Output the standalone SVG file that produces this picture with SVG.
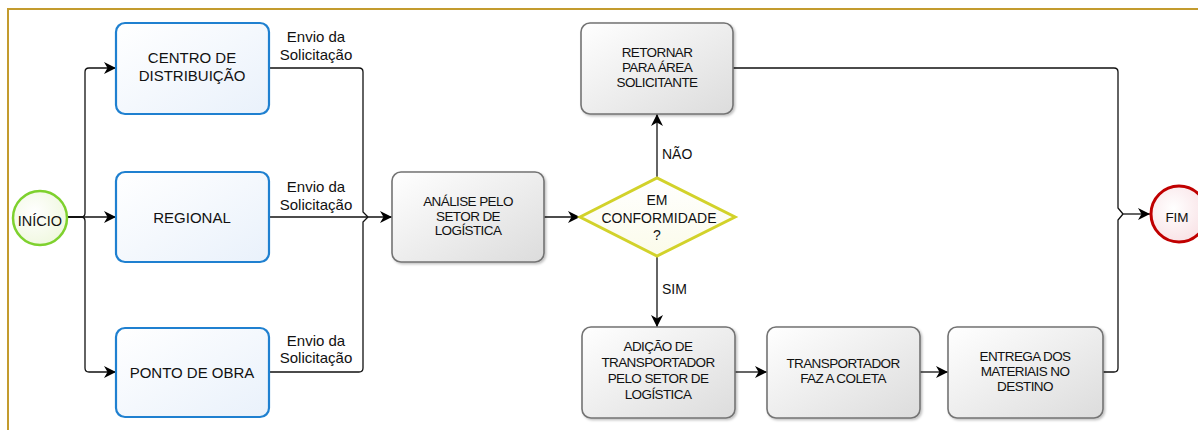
<svg xmlns="http://www.w3.org/2000/svg" width="1198" height="430" viewBox="0 0 1198 430">
  <defs>
    <linearGradient id="gBlue" x1="0" y1="0" x2="1" y2="1">
      <stop offset="0" stop-color="#ffffff"/>
      <stop offset="1" stop-color="#e9f1fb"/>
    </linearGradient>
    <linearGradient id="gGray" x1="0" y1="0" x2="1" y2="1">
      <stop offset="0" stop-color="#ffffff"/>
      <stop offset="1" stop-color="#dcdcdc"/>
    </linearGradient>
    <radialGradient id="gGreen" cx="0.4" cy="0.4" r="0.7">
      <stop offset="0" stop-color="#ffffff"/>
      <stop offset="1" stop-color="#eef7dc"/>
    </radialGradient>
    <radialGradient id="gRed" cx="0.4" cy="0.4" r="0.7">
      <stop offset="0" stop-color="#ffffff"/>
      <stop offset="1" stop-color="#f8dfe3"/>
    </radialGradient>
    <linearGradient id="gYellow" x1="0" y1="0" x2="0" y2="1">
      <stop offset="0" stop-color="#ffffff"/>
      <stop offset="1" stop-color="#fbfbea"/>
    </linearGradient>
    <filter id="shadow" x="-10%" y="-10%" width="125%" height="125%">
      <feDropShadow dx="1.5" dy="1.5" stdDeviation="1.2" flood-color="#000" flood-opacity="0.25"/>
    </filter>
    <marker id="arrow" markerUnits="userSpaceOnUse" markerWidth="13" markerHeight="12" refX="12" refY="6" orient="auto">
      <path d="M0,0 L12,6 L0,12 L3.5,6 z" fill="#000"/>
    </marker>
  </defs>
  <style>
    .frame { fill: none; stroke: #c39b2e; stroke-width: 2; }
    .blue { fill: url(#gBlue); stroke: #1f80d0; stroke-width: 2.2; }
    .gray { fill: url(#gGray); stroke: #737373; stroke-width: 1.6; filter: url(#shadow); }
    .start { fill: url(#gGreen); stroke: #7ed12e; stroke-width: 2.5; }
    .end { fill: url(#gRed); stroke: #c00000; stroke-width: 3; }
    .decision { fill: url(#gYellow); stroke: #d2d22a; stroke-width: 3; }
    .edge { fill: none; stroke: #111; stroke-width: 1.3; }
    .arr { marker-end: url(#arrow); }
    text { font-family: "Liberation Sans", Arial, sans-serif; fill: #111; text-anchor: middle; }
    .t15 { font-size: 15px; }
    .t14 { font-size: 14px; }
    .t13 { font-size: 13.5px; letter-spacing: -0.6px; }
    .lbl { font-size: 14px; text-anchor: start; }
  </style>

  <!-- page frame -->
  <rect class="frame" x="8" y="9" width="1200" height="440"/>

  <!-- connectors -->
  <g id="connectors">
    <path class="edge arr" d="M68,217 H81 Q85,217 85,213 V72 Q85,68 89,68 H116"/>
    <path class="edge arr" d="M68,217 H116"/>
    <path class="edge arr" d="M68,217 H81 Q85,217 85,221 V368 Q85,372 89,372 H116"/>

    <path class="edge" d="M269,68 H359 Q363,68 363,72 V212 L368,217"/>
    <path class="edge arr" d="M269,217 H392"/>
    <path class="edge" d="M269,372 H359 Q363,372 363,368 V222 L368,217"/>

    <path class="edge arr" d="M544,217 H580"/>
    <path class="edge arr" d="M657,178 V114"/>
    <path class="edge arr" d="M657,256 V327"/>
    <path class="edge arr" d="M735,372 H767"/>
    <path class="edge arr" d="M920,372 H948"/>

    <path class="edge" d="M733,68 H1114 Q1118,68 1118,72 V208 L1123,214"/>
    <path class="edge arr" d="M1123,214 H1150"/>
    <path class="edge" d="M1103,372 H1114 Q1118,372 1118,368 V220 L1123,214"/>

    <text class="t15" x="316" y="42">Envio da</text>
    <text class="t15" x="316" y="60">Solicitação</text>
    <text class="t15" x="316" y="192">Envio da</text>
    <text class="t15" x="316" y="210">Solicitação</text>
    <text class="t15" x="316" y="346">Envio da</text>
    <text class="t15" x="316" y="363">Solicitação</text>
    <text class="lbl" x="662" y="159">NÃO</text>
    <text class="lbl" x="662" y="294">SIM</text>
  </g>

  <!-- start / end events -->
  <g id="inicio">
    <circle class="start" cx="40" cy="218" r="27"/>
    <text class="t14" x="40" y="226" style="font-size:14.5px">INÍCIO</text>
  </g>
  <g id="fim">
    <circle class="end" cx="1179" cy="214" r="28"/>
    <text class="t13" x="1177" y="222" style="letter-spacing:0">FIM</text>
  </g>

  <!-- requesting areas -->
  <g id="centro-distribuicao">
    <rect class="blue" x="116" y="23" width="153" height="91" rx="9"/>
    <text class="t15" x="192" y="63">CENTRO DE</text>
    <text class="t15" x="192" y="81">DISTRIBUIÇÃO</text>
  </g>
  <g id="regional">
    <rect class="blue" x="116" y="172" width="153" height="90" rx="9"/>
    <text class="t15" x="192" y="223">REGIONAL</text>
  </g>
  <g id="ponto-obra">
    <rect class="blue" x="116" y="328" width="153" height="89" rx="9"/>
    <text class="t15" x="192" y="378">PONTO DE OBRA</text>
  </g>

  <!-- logistics steps -->
  <g id="analise">
    <rect class="gray" x="392" y="172" width="152" height="90" rx="9"/>
    <text class="t13" x="468" y="206">ANÁLISE PELO</text>
    <text class="t13" x="468" y="220.5">SETOR DE</text>
    <text class="t13" x="468" y="235">LOGÍSTICA</text>
  </g>
  <g id="conformidade">
    <polygon class="decision" points="580,217 657,178 735,217 657,256"/>
    <text class="t14" x="657" y="205">EM</text>
    <text class="t14" x="659" y="223">CONFORMIDADE</text>
    <text class="t14" x="657" y="240">?</text>
  </g>
  <g id="retornar">
    <rect class="gray" x="581" y="23" width="152" height="91" rx="9"/>
    <text class="t13" x="657" y="57">RETORNAR</text>
    <text class="t13" x="657" y="72">PARA ÁREA</text>
    <text class="t13" x="657" y="87">SOLICITANTE</text>
  </g>
  <g id="adicao-transportador">
    <rect class="gray" x="582" y="327" width="153" height="91" rx="9"/>
    <text class="t13" x="658" y="351">ADIÇÃO DE</text>
    <text class="t13" x="658" y="367">TRANSPORTADOR</text>
    <text class="t13" x="658" y="383">PELO SETOR DE</text>
    <text class="t13" x="658" y="399">LOGÍSTICA</text>
  </g>
  <g id="coleta">
    <rect class="gray" x="767" y="327" width="153" height="91" rx="9"/>
    <text class="t13" x="843" y="368">TRANSPORTADOR</text>
    <text class="t13" x="843" y="383">FAZ A COLETA</text>
  </g>
  <g id="entrega">
    <rect class="gray" x="948" y="327" width="155" height="91" rx="9"/>
    <text class="t13" x="1025" y="361">ENTREGA DOS</text>
    <text class="t13" x="1025" y="376">MATERIAIS NO</text>
    <text class="t13" x="1025" y="391">DESTINO</text>
  </g>
</svg>
